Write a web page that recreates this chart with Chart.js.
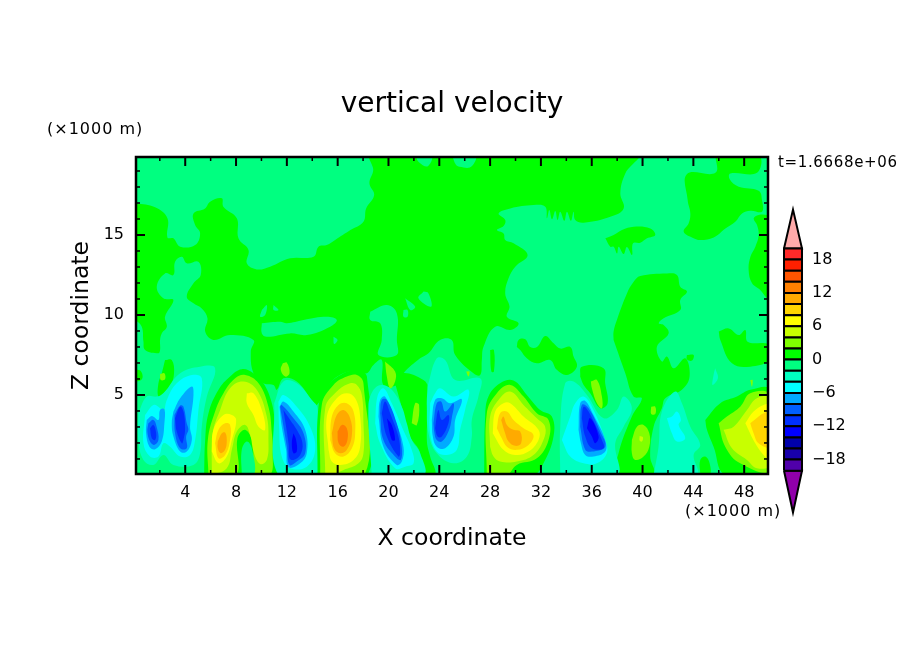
<!DOCTYPE html>
<html>
<head>
<meta charset="utf-8">
<title>vertical velocity</title>
<script src="https://cdn.jsdelivr.net/npm/chart.js@4"></script>
<style>
  body { margin: 0; background: #fff; }
  #plot { position: absolute; left: 0; top: 0; }
  #bar { position: absolute; left: 774px; top: 190px; }
</style>
</head>
<body>
<canvas id="plot" width="904" height="654"></canvas>
<canvas id="bar" width="88" height="342"></canvas>
<script>
// contour levels, lower bound of each band (m/s)
const levels = [-20, -18, -16, -14, -12, -10, -8, -6, -4, -2, 0, 2, 4, 6, 8, 10, 12, 14, 16, 18];
const levelColors = ['#5000aa', '#1800aa', '#0000aa', '#0000ff', '#0030ff', '#0060ff', '#00aaff', '#00ffff', '#00ffc0', '#00ff80',
  '#00ff00', '#80ff00', '#c8ff00', '#ffff00', '#ffd500', '#ffaa00', '#ff8000', '#ff5500', '#ff2000', '#ff2a2a'];
const xTicks = [4, 8, 12, 16, 20, 24, 28, 32, 36, 40, 44, 48];
const xMinorTicks = [2, 6, 10, 14, 18, 22, 26, 30, 34, 38, 42, 46];
const zTicks = [5, 10, 15];
const zMinorTicks = [1, 2, 3, 4, 6, 7, 8, 9, 11, 12, 13, 14, 16, 17, 18, 19];
const barTicks = [-18, -12, -6, 0, 6, 12, 18];

// contour outlines [x km, z km]
const plotBase = [[0, 0], [50, 0], [50, 20], [0, 20]];

const greenMain = [[0, 17], [1.63, 16.73], [2.6, 16.04], [2.6, 14.85], [3.07, 14.79], [3.6, 14.27], [4.78, 14.37], [5.17, 15.1], [4.78, 15.62], [4.65, 16.35], [5.56, 16.66], [5.96, 17.08], [6.88, 17.29], [7, 16.77], [8.06, 16.04], [8.19, 14.79], [8.98, 14.06], [8.85, 13.23], [9.63, 12.85], [10.68, 13.02], [12.26, 13.54], [14.1, 13.64], [14.49, 14.27], [15.14, 14.37], [15.8, 14.69], [17, 15.31], [18.03, 15.83], [18.24, 16.66], [18.87, 17.5], [18.5, 18.23], [18.8, 19.06], [18.6, 20],
  [39.6, 20], [38.64, 18.85], [38.25, 17.6], [38.51, 16.66], [37.46, 16.14], [35.36, 15.77], [34.7, 15.94], [34.57, 16.46], [34.36, 15.89], [34.05, 16.46], [33.84, 15.89], [33.52, 16.46], [33.31, 15.94], [33.13, 16.5], [32.87, 15.98], [32.66, 16.56], [32.47, 16.04], [32.34, 16.77], [31.42, 16.87], [29.59, 16.66], [28.67, 16.35], [29.19, 15.94], [29.06, 15.56], [28.54, 15.31], [29.06, 15.1], [29.19, 14.69], [29.85, 14.48], [30.95, 13.75], [29.98, 13.02], [29.45, 12.29], [29.19, 11.35], [29.53, 10.52], [29.32, 9.89], [30.24, 9.48], [29.59, 9.06], [28.4, 9.27], [27.48, 8.02],
  [27.35, 7.19], [27.22, 6.25], [26.69, 6.36], [25.25, 7.5], [24.98, 8.44], [24.06, 8.44], [23.15, 7.61], [22.49, 7.29], [21.18, 6.36], [20.65, 5.63], [19.6, 5.63], [19.47, 7.19], [18.82, 6.88], [18.29, 6.36], [17.51, 6.46], [16.46, 6.36], [15.41, 5.73], [14.36, 4.38], [13.96, 4.69], [12.78, 5.84], [11.73, 6.04], [11.21, 5.32], [10.95, 5.63], [10.16, 5.73], [9.37, 6.36], [9.16, 7.71], [9.37, 8.44],
  [7.53, 8.75], [6.22, 8.44], [5.57, 8.96], [5.75, 9.79], [5.3, 10.41], [4.65, 10.73], [4.12, 11.14], [4.65, 11.98], [5.22, 12.5], [5.04, 13.33], [4.12, 13.23], [3.73, 13.64], [3.2, 13.33], [3.07, 12.5], [2.41, 12.6], [1.76, 11.77], [2.28, 11.04], [3.07, 10.94], [2.41, 9.89], [2.55, 9.27], [2.15, 8.85], [2.02, 8.44], [2.02, 7.81], [1.89, 7.61], [0.84, 7.81], [0.71, 8.34], [0.58, 9.27], [0, 9.9]];
const greenColumn = [[37.72, 8.44], [38.64, 6.36], [39.29, 4.9], [39.95, 4.79], [39.16, 3.65], [38.11, 1.36], [37.93, 0], [40.87, 0], [40.6, 1.15], [40.87, 3.02], [41.52, 4.17], [41.79, 4.79], [43.1, 5.32], [43.7, 6.15], [43.36, 7.29], [42.44, 6.67], [41.92, 7.4], [41.52, 7.09], [41.13, 8.02], [42.05, 8.85], [41.66, 9.37], [41.27, 9.48], [41.66, 9.79], [42.97, 10.31], [42.97, 10.94], [43.5, 11.46], [42.97, 11.77], [42.71, 12.5], [41.92, 12.6], [39.82, 12.44], [39.3, 12.08], [38.77, 11.35], [37.98, 9.69], [37.72, 8.96]];
const greenTopRight = [[45.73, 20], [49.14, 20], [49.01, 18.89], [46.91, 18.85], [46.86, 18.48], [47.57, 18.02], [49.14, 17.77], [49.4, 17.19], [49.4, 16.46], [48.49, 16.52], [47.83, 16.35], [47.3, 15.83], [46.52, 15.41], [45.6, 14.85], [44.55, 14.69], [43.89, 14.85], [43.24, 15.21], [43.63, 15.73], [43.76, 16.35], [43.55, 17.19], [43.5, 18.81], [45.73, 18.89]];
const greenRightEdge = [[50, 16.25], [49.14, 16.25], [48.75, 16.04], [49.01, 15.62], [49.14, 15], [48.88, 14.27], [48.49, 13.64], [48.35, 12.81], [48.62, 11.98], [49.27, 11.56], [49.8, 11.04], [50, 11.04]];
const greenIsland = [[37.07, 14.79], [37.72, 15], [38.38, 15.31], [39.3, 15.52], [40.61, 15.41], [41, 15], [40.35, 14.79], [39.82, 14.52], [39.25, 14.48], [39.17, 13.75], [38.77, 14.25], [38.51, 13.81], [38.12, 14.27], [37.99, 13.85], [37.72, 14.27], [37.46, 14.27]];
const greenLowRight = [[46, 8.96], [46.78, 9.16], [47.57, 8.75], [48.09, 9.06], [48.27, 8.33], [49.67, 8.23], [50, 8.1], [50, 7.2], [48.48, 6.77], [47.04, 6.98], [46.12, 8.44]];
const greenMid = [[30.1, 8], [30.24, 8.44], [30.77, 8.48], [31.16, 8], [31.69, 8], [32.34, 8.69], [33, 8.23], [33.52, 7.9], [34.31, 8], [34.57, 7.4], [34.83, 6.77], [34.04, 6.25], [33.25, 6.57], [32.73, 7.19], [31.68, 6.98], [30.89, 7.29], [30.37, 7.81]];
const greenRidge = [[28, 7.81], [28.3, 7.81], [28.3, 6.46], [28.1, 6.46]];
const greenSmallA = [[43.49, 7.5], [44.02, 7.5], [43.89, 7.15], [43.49, 7.23]];
const greenSmallB = [[2.41, 7.19], [2.94, 7.19], [3.12, 6.36], [2.81, 5.53], [2.28, 5.11], [1.89, 4.9], [1.89, 5.73], [2.15, 6.36]];
const greenSmallC = [[0, 6.6], [0.5, 6.5], [0.6, 6], [0, 5.9]];
const greenSmallD = [[44.54, 0], [44.54, 0.94], [44.94, 1.15], [45.28, 0.73], [45.28, 0]];
const greenGap = [[20.52, 5.73], [21.05, 6.36], [22.75, 5.94], [23.15, 5.32], [23.02, 2.19], [23.28, 1.15], [23.67, 0], [22.36, 0], [22.49, 1.36], [21.7, 2.4], [21.18, 3.86]];
const greenNear36 = [[35.09, 6.15], [35.22, 6.77], [36.93, 6.67], [37.06, 5.73], [37.25, 4.48], [36.67, 4.17], [35.88, 5.11], [35.36, 5.63]];

const springTopA = [[22.1, 20], [22.4, 19.55], [23.1, 19.3], [23.4, 20]];
const springTopB = [[25, 20], [25.3, 19.4], [25.6, 19.26], [26.5, 19.26], [26.85, 20]];
const springRibbon = [[10.03, 9.48], [11.47, 9.58], [12, 9.48], [13.31, 9.69], [15.15, 9.89], [15.93, 9.69], [15.41, 9.27], [13.57, 8.75], [12.26, 8.85], [10.42, 8.64], [10.03, 8.85]];
const springDotA = [[10.03, 10.31], [10.42, 10.62], [10.29, 10], [9.9, 9.89]];
const springDotB = [[10.95, 10.62], [11.34, 10.31], [10.95, 10.31]];
const springSpikes = [[18.56, 10.2], [19.87, 10.62], [20.66, 10.1], [20.66, 8.44], [20.65, 7.5], [19.21, 7.5], [19.47, 8.44], [19.35, 9.48], [18.56, 9.69]];
const springDotC = [[22.76, 11.46], [23.15, 11.35], [23.36, 10.52], [22.36, 11.04]];
const springDotD = [[21.31, 11.04], [22.1, 10.52], [21.71, 10.31]];
const springDotE = [[21.18, 10.31], [21.5, 10.31], [21.5, 9.89], [21.18, 9.89]];
const springDotF = [[15.67, 8.64], [15.99, 8.44], [15.72, 8.19]];

// x = 6 to 10 km updraft
const up8Green = [[5.49, 0], [5.57, 2.19], [5.83, 3.86], [6.62, 5.32], [7.53, 6.15], [8.45, 6.61], [9.37, 6.36], [10.16, 5.73], [10.82, 4.48], [11.08, 3.02], [11.21, 1.57], [11.34, 0]];
const up8Lime = [[5.83, 0], [5.78, 2.19], [6.35, 3.96], [7.01, 5.11], [7.93, 6.04], [8.72, 6.25], [9.77, 5.73], [10.55, 4.27], [10.82, 2.61], [10.89, 1.36], [10.68, 0], [9.42, 0], [9.32, 1.98], [8.72, 2.82], [8.11, 2.29], [8.01, 0]];
const up8Notch = [[8.45, 0], [8.45, 1.57], [8.85, 2.09], [9.24, 1.67], [9.42, 0]];
const up8Pale = [[6.09, 0], [6.17, 2.61], [6.75, 4.06], [7.53, 5.42], [8.58, 5.84], [9.63, 5.32], [10.42, 3.65], [10.55, 2.19], [10.42, 0.94], [9.9, 0.69], [9.42, 1.36], [9.11, 2.5], [8.72, 3.13], [8.06, 2.71], [7.67, 1.57], [7.27, 0.42]];
const up8YellowL = [[6.09, 1.46], [6.22, 2.82], [7.01, 3.75], [7.67, 3.75], [8.01, 3.44], [7.67, 2.19], [7.27, 1.15], [6.62, 0.73]];
const up8YellowR = [[8.85, 5.11], [9.37, 5.11], [10.03, 4.06], [10.29, 2.82], [9.77, 3.02], [9.37, 3.75], [8.85, 4.48]];
const up8Gold = [[6.35, 1.98], [6.62, 2.82], [7.14, 3.23], [7.53, 3.13], [7.53, 2.19], [7.14, 1.25], [6.62, 1.04]];
const up8Amber = [[6.56, 2.09], [6.88, 2.61], [7.14, 2.65], [7.27, 2.19], [7.14, 1.57], [6.8, 1.36], [6.56, 1.67]];

// x = 1 to 5 km downdrafts
const dn3Teal = [[0.31, 3.86], [0.97, 4.9], [1.76, 4.9], [2.28, 5.11], [3.6, 6.36], [5.17, 6.77], [6.35, 6.67], [5.7, 4.9], [5.3, 3.02], [5.17, 1.36], [4.65, 0.63], [3.07, 0.63], [2.28, 1.25], [1.5, 0.63], [0.71, 0.94], [0.31, 2.19]];
const dn3Cyan = [[0.84, 3.75], [1.5, 4.38], [2.02, 4.17], [2.28, 3.86], [2.55, 4.69], [3.33, 5.73], [4.52, 6.25], [5.3, 6.04], [5.04, 4.06], [4.78, 2.19], [4.38, 1.25], [3.6, 1.15], [2.81, 1.77], [2.28, 1.98], [1.89, 1.15], [1.23, 1.15], [0.71, 1.98]];
const dn2Sky = [[0.97, 3.44], [1.37, 3.69], [1.89, 3.44], [2.02, 4.06], [2.36, 4.11], [2.36, 3.23], [2.15, 2.09], [1.63, 1.61], [1.18, 1.77], [0.92, 2.61]];
const dn4Sky = [[3.07, 3.96], [3.6, 4.79], [4.52, 5.53], [4.65, 5], [4.38, 3.02], [4.52, 2.19], [4.12, 1.46], [3.6, 1.46], [3.07, 2.4], [2.94, 3.23]];
const dn2Blue = [[1.1, 3.23], [1.5, 3.44], [1.76, 2.98], [1.89, 2.19], [1.55, 1.88], [1.23, 2.09], [1.02, 2.71]];
const dn4Blue = [[3.15, 3.75], [3.6, 4.34], [3.86, 4.27], [4.12, 3.23], [4.25, 2.82], [4.07, 2.4], [4.12, 1.67], [3.6, 1.67], [3.2, 2.61]];
const dn2Deep = [[1.23, 2.92], [1.5, 3.13], [1.71, 2.61], [1.63, 2.19], [1.37, 2.29]];
const dn4Deep = [[3.2, 3.55], [3.6, 4.27], [3.86, 3.96], [3.99, 2.92], [3.86, 2.19], [3.73, 1.98], [3.33, 2.71]];

// x = 12 km downdraft
const dn12Teal = [[11, 4.48], [11.73, 5.84], [12.78, 5.73], [13.96, 4.69], [14.41, 4.17], [14.41, 0], [11.34, 0]];
const dn12Cyan = [[11.34, 4.59], [11.73, 5], [12.78, 4.27], [13.83, 3.02], [14.23, 1.57], [13.57, 0.52], [12.26, 0.42], [11.6, 1.15], [11.39, 3.02]];
const dn12Sky = [[11.42, 4.27], [11.73, 4.59], [12.52, 3.96], [13.44, 2.82], [13.57, 1.36], [13.05, 0.73], [12.13, 0.48], [11.94, 1.57], [11.6, 3.02]];
const dn12Blue = [[11.47, 4.27], [11.6, 4.38], [12.52, 3.55], [13.31, 2.61], [13.44, 1.36], [12.78, 0.84], [12.21, 0.63], [12, 1.77]];
const dn12Deep = [[11.73, 4.06], [12.26, 3.44], [12.78, 2.82], [13.23, 1.98], [13.05, 1.25], [12.52, 0.94], [12.21, 1.04], [12.13, 1.98]];
const dn12Core = [[12.52, 2.61], [12.73, 2.19], [12.78, 1.46], [12.52, 1.36], [12.39, 1.98]];

// x = 16 km updraft
const up16Green = [[14.41, 0], [14.49, 4.27], [15.15, 5.52], [16.46, 6.36], [17.51, 6.52], [18.3, 6.15], [18.35, 0]];
const up16Lime = [[14.62, 0], [14.75, 4.38], [15.67, 5.63], [16.72, 6.15], [17.51, 6.25], [18.03, 5.73], [18.11, 0]];
const up16Pale = [[15.02, 0], [15.02, 4.17], [15.93, 5.21], [16.98, 5.73], [17.51, 5.63], [17.9, 5], [18.03, 3.23], [18.03, 1.36], [17.64, 0.73], [16.46, 0.31], [15.41, 0]];
const up16Yellow = [[15.28, 1.57], [15.15, 3.65], [15.93, 4.79], [16.72, 5.11], [17.38, 4.79], [17.77, 3.65], [17.77, 1.77], [17.25, 0.94], [16.2, 0.63], [15.54, 0.84]];
const up16Gold = [[15.41, 2.19], [15.54, 3.65], [16.07, 4.38], [16.72, 4.48], [17.25, 3.96], [17.38, 2.61], [17.12, 1.67], [16.46, 1.15], [15.8, 1.36]];
const up16Amber = [[15.54, 2.61], [15.93, 3.75], [16.46, 4.06], [16.98, 3.55], [17.12, 2.5], [16.72, 1.57], [16.2, 1.36], [15.72, 1.67]];
const up16Orange = [[15.99, 2.71], [16.33, 3.13], [16.72, 2.92], [16.77, 2.19], [16.46, 1.77], [16.07, 1.98]];

// x = 20 km downdraft
const dn20Teal = [[18.68, 0], [18.42, 4.27], [18.82, 5.32], [19.47, 5.63], [20.26, 5.32], [21.05, 4.27], [21.44, 3.23], [21.83, 2.19], [22.49, 1.36], [22.75, 0]];
const dn20Cyan = [[18.95, 3.23], [19.13, 4.9], [19.6, 5.42], [20.26, 4.48], [21.05, 3.02], [21.83, 1.57], [21.97, 0.73], [21.31, 0.52], [20.52, 0.42], [19.34, 1.98]];
const dn20Sky = [[19.21, 3.65], [19.34, 4.69], [19.73, 4.9], [20.52, 3.44], [21.18, 1.77], [21.05, 0.84], [20.65, 0.63], [19.6, 1.77]];
const dn20Blue = [[19.34, 3.86], [19.47, 4.69], [19.87, 4.69], [20.65, 3.23], [21.05, 1.67], [20.97, 0.94], [20.65, 1.04], [19.6, 2.19]];
const dn20Deep = [[19.47, 3.86], [19.73, 4.59], [20.13, 3.86], [20.78, 2.4], [20.92, 1.36], [20.78, 1.15], [19.87, 2.4]];
const dn20Core = [[19.87, 3.55], [20.26, 3.13], [20.52, 2.19], [20.26, 2.19]];

// x = 24 km downdraft
const dn24Teal = [[23.07, 5.53], [23.8, 7.29], [24.46, 7.19], [25.25, 5.94], [27.22, 6.04], [27.08, 4.9], [26.56, 3.44], [26.56, 2.4], [26.17, 1.15], [25.12, 0.73], [23.8, 1.36], [23.15, 2.61], [23.02, 4.27]];
const dn24Cyan = [[23.28, 4.48], [23.67, 5.11], [24.06, 5.42], [25.12, 4.9], [26.3, 5.32], [26.03, 4.06], [25.64, 2.82], [25.38, 1.57], [24.59, 1.25], [23.8, 1.46], [23.28, 2.61]];
const dn24Sky = [[23.41, 3.44], [23.67, 4.69], [24.2, 4.79], [24.85, 4.48], [25.77, 4.73], [25.25, 3.44], [25.12, 2.4], [24.46, 1.67], [23.8, 1.77], [23.49, 2.4]];
const dn24Blue = [[23.54, 3.23], [23.8, 4.48], [24.14, 4.59], [24.46, 3.96], [25.12, 4.48], [24.98, 3.55], [24.72, 2.71], [24.2, 2.09], [23.8, 2.19], [23.62, 2.61]];
const dn24Deep = [[23.67, 2.92], [23.93, 4.06], [24.2, 3.44], [24.72, 3.75], [24.72, 3.23], [24.2, 2.4], [23.86, 2.4]];

// x = 30 km updraft
const up30Green = [[27.53, 0], [27.61, 3.65], [27.87, 4.9], [28.79, 5.73], [29.84, 5.9], [30.89, 5], [31.94, 4.06], [32.86, 3.65], [32.99, 2.4], [32.2, 0.73], [31.4, 0]];
const up30Lime = [[27.74, 0], [27.74, 3.86], [28.53, 5.11], [29.58, 5.63], [30.63, 4.9], [31.68, 3.86], [32.6, 3.44], [32.6, 2.19], [31.68, 1.04], [30.1, 0.63], [29.3, 0]];
const up30Pale = [[28, 1.77], [28, 3.65], [28.66, 4.69], [29.58, 5.21], [30.63, 4.38], [31.68, 3.55], [32.33, 3.02], [32.2, 2.19], [31.41, 1.25], [30.1, 0.84], [28.79, 0.84], [28.27, 1.15]];
const up30Yellow = [[28.21, 2.61], [28.4, 3.96], [29.05, 4.48], [29.58, 4.48], [30.63, 3.65], [31.81, 2.82], [31.81, 2.19], [31.02, 1.46], [29.97, 1.25], [29.05, 1.57]];
const up30Gold = [[28.53, 2.92], [28.79, 3.86], [29.32, 3.96], [29.84, 3.44], [30.63, 2.92], [31.41, 2.5], [31.02, 1.88], [30.1, 1.57], [29.32, 1.77], [28.92, 2.29]];
const up30Amber = [[28.87, 3.44], [29.05, 3.65], [29.32, 3.13], [29.84, 2.82], [30.37, 2.71], [30.44, 1.98], [29.97, 1.82], [29.45, 2.09], [29.18, 2.61]];

// x = 36 km downdraft
const dn36Teal = [[33.52, 0], [33.52, 3.02], [33.91, 5.73], [34.57, 5.84], [35.62, 5], [36.93, 3.55], [37.98, 4.06], [38.51, 4.9], [39.16, 4.17], [38.51, 3.02], [37.85, 1.98], [37.98, 0]];
const dn36Cyan = [[33.65, 2.19], [34.31, 3.65], [34.7, 4.48], [35.36, 4.9], [36.14, 4.06], [37.06, 2.19], [37.19, 1.36], [36.41, 0.73], [35.36, 0.73], [34.31, 1.15]];
const dn36Sky = [[34.96, 2.82], [35.09, 4.48], [35.49, 4.63], [36.14, 3.75], [37.06, 2.19], [37.06, 1.46], [36.14, 1.15], [35.49, 1.25], [35.15, 1.98]];
const dn36Blue = [[35.09, 3.02], [35.22, 4.38], [35.75, 4.17], [36.67, 2.71], [37.06, 1.77], [36.01, 1.46], [35.49, 1.57]];
const dn36Deep = [[35.22, 3.55], [35.36, 4.27], [35.75, 3.96], [36.8, 2.19], [36.93, 1.67], [36.01, 1.67], [35.49, 2.4]];
const dn36Core = [[35.62, 2.92], [35.88, 3.55], [36.54, 2.4], [36.27, 1.98], [36.01, 2.4]];

// x = 40 to 44 km
const up40Lime = [[39.16, 2.19], [39.56, 3.02], [40.08, 3.13], [40.53, 2.61], [40.53, 1.77], [40.08, 1.15], [39.42, 0.94], [39.16, 1.36]];
const up40Pale = [[39.77, 2.44], [40.03, 2.36], [39.95, 2.09], [39.77, 2.15]];
const dn43Teal = [[40.87, 0], [41.26, 1.77], [41.52, 3.96], [42.57, 5.21], [43.1, 4.48], [43.76, 3.02], [44.54, 1.88], [44.02, 1.25], [44.28, 0]];
const dn43Cyan = [[41.92, 3.55], [42.31, 3.65], [42.71, 3.96], [43.02, 3.44], [42.84, 3.13], [43.36, 2.29], [42.71, 2.09], [42.31, 2.61]];
const dn46Teal = [[45.72, 6.67], [45.93, 6.04], [45.51, 5.63], [45.59, 6.25]];

// x = 48 km updraft
const up48Green = [[44.94, 3.44], [46.12, 4.48], [47.43, 4.9], [48.48, 5.32], [50, 5.32], [50, 0], [46.51, 0], [45.59, 1.77], [45.07, 2.82]];
const up48Lime = [[45.99, 3.23], [46.64, 3.65], [47.69, 4.27], [48.48, 5.11], [50, 5], [50, 0.31], [47.69, 0.73], [46.51, 1.77]];
const up48Pale = [[46.38, 2.82], [47.17, 3.02], [48.22, 4.06], [49, 4.79], [50, 4.79], [50, 0.63], [49, 0.42], [48.22, 0.94], [47.04, 1.67]];
const up48Yellow = [[48.09, 3.23], [48.74, 3.96], [49.53, 4.38], [50, 4.38], [50, 0.94], [49.53, 1.25], [48.87, 1.98]];
const up48Gold = [[48.48, 3.23], [49.53, 3.86], [50, 3.86], [50, 1.77], [49.13, 1.98], [48.74, 2.61]];

// small spots above the cells
const limeSpotA = [[2.02, 6.31], [2.36, 6.36], [2.41, 5.98], [2.07, 5.94]];
const limeSpotB = [[11.68, 6.98], [12, 7.02], [12.21, 6.36], [11.87, 6.15], [11.52, 6.57]];
const limeSpotC = [[21.83, 3.23], [22.1, 4.48], [22.41, 4.38], [22.23, 3.13]];
const limeSpotD = [[19.73, 7.09], [20.52, 6.46], [20.52, 5.84], [20.13, 5.42], [19.87, 6.15]];
const limeSpotE = [[26.11, 6.46], [26.37, 6.46], [26.3, 6.15]];
const limeSpotF = [[35.93, 5.84], [36.41, 5.94], [36.8, 4.9], [36.8, 4.17], [36.41, 4.48], [36.01, 5.42]];
const limeSpotG = [[40.68, 4.27], [41, 4.27], [41, 3.81], [40.68, 3.81]];
const limeSpotH = [[48.48, 5.94], [48.66, 5.94], [48.61, 5.52]];

// [level, outline] in painting order, later ones cover earlier ones
const contours = [
  [-2, plotBase],
  [0, greenMain], [0, greenColumn], [0, greenTopRight], [0, greenRightEdge], [0, greenIsland], [0, greenLowRight],
  [0, greenMid], [0, greenRidge], [0, greenSmallA], [0, greenSmallB], [0, greenSmallC], [0, greenSmallD], [0, greenGap], [0, greenNear36],
  [-2, springTopA], [-2, springTopB], [-2, springRibbon], [-2, springDotA], [-2, springDotB], [-2, springSpikes],
  [-2, springDotC], [-2, springDotD], [-2, springDotE], [-2, springDotF],
  [-4, dn3Teal], [-6, dn3Cyan], [-8, dn2Sky], [-8, dn4Sky], [-10, dn2Blue], [-10, dn4Blue], [-12, dn2Deep], [-12, dn4Deep],
  [0, up8Green], [2, up8Lime], [-2, up8Notch], [4, up8Pale], [6, up8YellowL], [6, up8YellowR], [8, up8Gold], [10, up8Amber],
  [-4, dn12Teal], [-6, dn12Cyan], [-8, dn12Sky], [-10, dn12Blue], [-12, dn12Deep], [-14, dn12Core],
  [0, up16Green], [2, up16Lime], [4, up16Pale], [6, up16Yellow], [8, up16Gold], [10, up16Amber], [12, up16Orange],
  [-4, dn20Teal], [-6, dn20Cyan], [-8, dn20Sky], [-10, dn20Blue], [-12, dn20Deep], [-14, dn20Core],
  [-4, dn24Teal], [-6, dn24Cyan], [-8, dn24Sky], [-10, dn24Blue], [-12, dn24Deep],
  [0, up30Green], [2, up30Lime], [4, up30Pale], [6, up30Yellow], [8, up30Gold], [10, up30Amber],
  [-4, dn36Teal], [-6, dn36Cyan], [-8, dn36Sky], [-10, dn36Blue], [-12, dn36Deep], [-14, dn36Core],
  [2, up40Lime], [4, up40Pale], [-4, dn43Teal], [-6, dn43Cyan], [-4, dn46Teal],
  [0, up48Green], [2, up48Lime], [4, up48Pale], [6, up48Yellow], [8, up48Gold],
  [2, limeSpotA], [2, limeSpotB], [2, limeSpotC], [2, limeSpotD], [2, limeSpotE], [2, limeSpotF], [2, limeSpotG], [2, limeSpotH],
];

const FONT = '"DejaVu Sans", sans-serif';

function colorOf(level) {
  return levelColors[levels.indexOf(level)];
}

function toPoints(outline) {
  // repeat the first vertex so the curve closes on itself
  return outline.concat([outline[0]]).map(([x, y]) => ({ x, y }));
}

// frame and inward ticks on all four sides
const frameTicks = {
  id: 'frameTicks',
  afterDatasetsDraw(chart) {
    const { ctx, chartArea: a, scales } = chart;
    ctx.save();
    ctx.strokeStyle = '#000';
    const tick = (x1, y1, x2, y2) => {
      ctx.beginPath();
      ctx.moveTo(x1, y1);
      ctx.lineTo(x2, y2);
      ctx.stroke();
    };
    const xMarks = (values, len) => values.forEach(v => {
      const x = scales.x.getPixelForValue(v);
      tick(x, a.bottom, x, a.bottom - len);
      tick(x, a.top, x, a.top + len);
    });
    const zMarks = (values, len) => values.forEach(v => {
      const y = scales.y.getPixelForValue(v);
      tick(a.left, y, a.left + len, y);
      tick(a.right, y, a.right - len, y);
    });
    ctx.lineWidth = 1.5;
    xMarks(xMinorTicks, 4);
    zMarks(zMinorTicks, 4);
    ctx.lineWidth = 2;
    xMarks(xTicks, 9);
    zMarks(zTicks, 9);
    ctx.lineWidth = 2.5;
    ctx.strokeRect(a.left, a.top, a.right - a.left, a.bottom - a.top);
    ctx.restore();
  },
  afterDraw(chart) {
    const { ctx } = chart;
    ctx.save();
    ctx.fillStyle = '#000';
    ctx.textBaseline = 'middle';
    ctx.font = '16px ' + FONT;
    ctx.letterSpacing = '1px';
    ctx.fillText('(×1000 m)', 47, 129.5);
    ctx.fillText('(×1000 m)', 685, 511.5);
    ctx.font = '15px ' + FONT;
    ctx.letterSpacing = '0.65px';
    ctx.fillText('t=1.6668e+06', 778, 163);
    ctx.restore();
  },
};

new Chart(document.getElementById('plot'), {
  type: 'scatter',
  data: {
    // chart.js paints the first dataset last
    datasets: contours.slice().reverse().map(([level, outline]) => ({
      data: toPoints(outline),
      showLine: true,
      fill: 'shape',
      backgroundColor: colorOf(level),
      borderWidth: 0,
      pointRadius: 0,
      pointHoverRadius: 0,
      tension: outline === plotBase ? 0 : 0.4,
    })),
  },
  options: {
    responsive: false,
    animation: false,
    events: [],
    layout: { padding: { left: 0, right: 0, top: 0, bottom: 101 } },
    plugins: {
      legend: { display: false },
      tooltip: { enabled: false },
      title: {
        display: true,
        text: 'vertical velocity',
        color: '#000',
        font: { family: FONT, size: 28, weight: 'normal', lineHeight: 1.2 },
        padding: { top: 87.7, bottom: 35.7 },
      },
    },
    scales: {
      x: {
        type: 'linear',
        min: 0.125,
        max: 49.875,
        grid: { display: false, drawTicks: false },
        border: { display: false },
        afterBuildTicks(scale) {
          scale.ticks = xTicks.map(value => ({ value }));
        },
        afterFit(scale) {
          scale.height = 79;
        },
        ticks: {
          color: '#000',
          maxRotation: 0,
          autoSkip: false,
          padding: 9,
          font: { family: FONT, size: 16 },
        },
        title: {
          display: true,
          text: 'X coordinate',
          color: '#000',
          padding: 0,
          font: { family: FONT, size: 23.5, lineHeight: 1.2 },
        },
      },
      y: {
        type: 'linear',
        min: 0.06,
        max: 19.875,
        grid: { display: false, drawTicks: false },
        border: { display: false },
        afterBuildTicks(scale) {
          scale.ticks = zTicks.map(value => ({ value }));
        },
        afterFit(scale) {
          scale.width = 136;
        },
        ticks: {
          color: '#000',
          autoSkip: false,
          padding: 12,
          font: { family: FONT, size: 16 },
        },
        title: {
          display: true,
          text: 'Z coordinate',
          color: '#000',
          padding: { top: 68, bottom: 0 },
          font: { family: FONT, size: 23.5, lineHeight: 1.2 },
        },
      },
      // empty axis that keeps the right margin and centres the title
      yRight: {
        type: 'linear',
        position: 'right',
        grid: { display: false, drawTicks: false },
        border: { display: false },
        ticks: { display: false },
        afterFit(scale) {
          scale.width = 136;
        },
      },
    },
  },
  plugins: [frameTicks],
});

// colour bar: one box per level plus an arrow at each end
const barDatasets = levels.map((low, i) => ({
  data: [{ x: 0, y: low }, { x: 1, y: low }, { x: 1, y: low + 2 }, { x: 0, y: low + 2 }, { x: 0, y: low }],
  backgroundColor: levelColors[i],
}));
barDatasets.push({
  data: [{ x: 0, y: 20 }, { x: 0.5, y: 27 }, { x: 1, y: 20 }, { x: 0, y: 20 }],
  backgroundColor: '#ffaaaa',
});
barDatasets.push({
  data: [{ x: 0, y: -20 }, { x: 0.5, y: -27.5 }, { x: 1, y: -20 }, { x: 0, y: -20 }],
  backgroundColor: '#9000aa',
});

new Chart(document.getElementById('bar'), {
  type: 'scatter',
  data: {
    datasets: barDatasets.map(d => ({
      ...d,
      showLine: true,
      fill: 'shape',
      borderColor: '#000',
      borderWidth: 2,
      pointRadius: 0,
      pointHoverRadius: 0,
      clip: false,
    })),
  },
  options: {
    responsive: false,
    animation: false,
    events: [],
    layout: { padding: { left: 10, right: 0, top: 7, bottom: 7 } },
    plugins: { legend: { display: false }, tooltip: { enabled: false } },
    scales: {
      x: { type: 'linear', min: 0, max: 1, display: false },
      y: {
        type: 'linear',
        position: 'right',
        min: -27.5,
        max: 27,
        grid: { display: false, drawTicks: false },
        border: { display: false },
        afterBuildTicks(scale) {
          scale.ticks = barTicks.map(value => ({ value }));
        },
        afterFit(scale) {
          scale.width = 60;
        },
        ticks: {
          color: '#000',
          autoSkip: false,
          padding: 10,
          crossAlign: 'near',
          font: { family: FONT, size: 16 },
          callback(value) {
            return String(value).replace('-', '−');
          },
        },
      },
    },
  },
});
</script>
</body>
</html>
